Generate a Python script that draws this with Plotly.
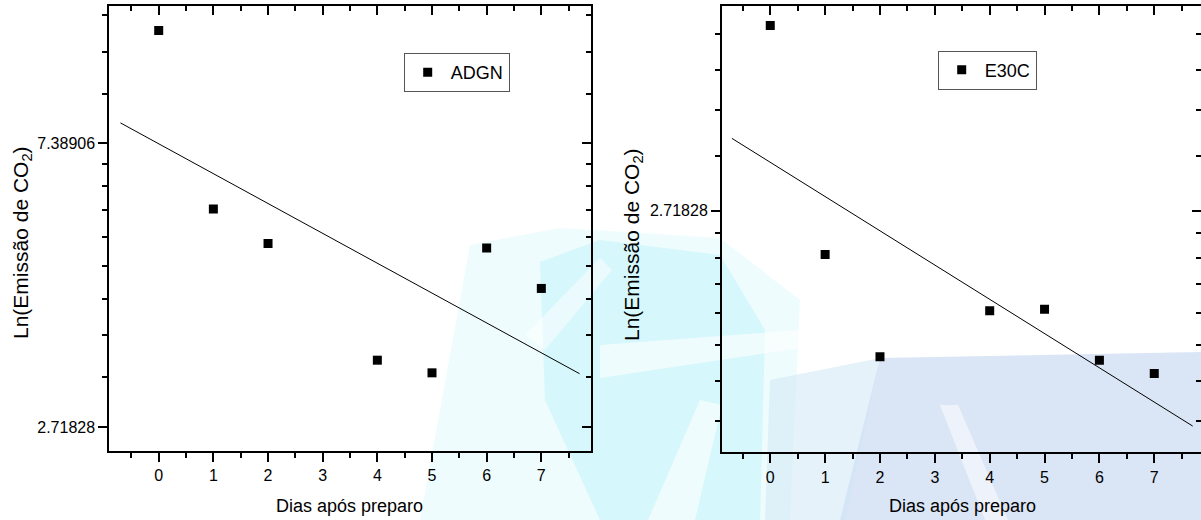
import math
import plotly.graph_objects as go

# ---------------- data ----------------
days = [0, 1, 2, 4, 5, 6, 7]
adgn = [11.00, 5.86, 5.19, 3.44, 3.29, 5.11, 4.43]
e30c = [4.93, 2.36, 1.70, 1.97, 1.98, 1.68, 1.61]

fit_days = [-0.7, 7.7]
adgn_fit = [7.94, 3.28]
e30c_fit = [3.43, 1.36]

x_ticks = [0, 1, 2, 3, 4, 5, 6, 7]
x_minor = [-0.5, 0.5, 1.5, 2.5, 3.5, 4.5, 5.5, 6.5, 7.5]

left_yticks = [math.e, math.e ** 2]
left_ytext = ["2.71828", "7.38906"]
right_yticks = [math.e]
right_ytext = ["2.71828"]


def linear_minor(a, b, n=8):
    return [a + (b - a) * k / (n + 1) for k in range(1, n + 1)]


left_yminor = linear_minor(math.e, math.e ** 2) + linear_minor(math.e ** 2, math.e ** 3)[:3]
right_yminor = linear_minor(1.0, math.e)[1:] + linear_minor(math.e, math.e ** 2)[:4]

x_title = "Dias após preparo"
y_title = "Ln(Emissão de CO<sub>2</sub>)"

# ---------------- layout geometry ----------------
W, H = 1201, 520
FONT = "Liberation Sans, Arial, sans-serif"
L10 = math.log10(math.e)

left_dom_x = [109.3 / W, 591.0 / W]
right_dom_x = [722.0 / W, 1.0]
left_dom_y = [(H - 451.0) / H, (H - 5.7) / H]
right_dom_y = [(H - 452.3) / H, (H - 5.7) / H]

left_xrange = [-0.904, 7.909]
right_xrange = [-0.88, 7.852]
left_yrange = [0.9154 * L10, 2.485 * L10]
right_yrange = [0.2231 * L10, 1.659 * L10]


def xax(dom, rng, side="bottom", overlay=None, anchor=None):
    d = dict(
        domain=dom, range=rng, showgrid=False, zeroline=False,
        showline=True, linecolor="black", linewidth=2,
        tickmode="array", tickvals=x_ticks,
        ticks="outside" if side == "bottom" else "inside",
        ticklen=9, tickwidth=2, tickcolor="black",
        minor=dict(tickvals=x_minor, ticks="outside" if side == "bottom" else "inside",
                   ticklen=5, tickwidth=1.5, tickcolor="black"),
        showticklabels=(side == "bottom"),
        tickfont=dict(family=FONT, size=16, color="black"),
        side=side, fixedrange=True,
    )
    if overlay:
        d["overlaying"] = overlay
    if anchor:
        d["anchor"] = anchor
    return d


def yax(dom, rng, tv, tt, mv, side="left", overlay=None, anchor=None):
    d = dict(
        domain=dom, range=rng, type="log", showgrid=False, zeroline=False,
        showline=True, linecolor="black", linewidth=2,
        tickmode="array", tickvals=tv, ticktext=tt,
        ticks="outside" if side == "left" else "inside",
        ticklen=9, tickwidth=2, tickcolor="black",
        minor=dict(tickvals=mv, ticks="outside" if side == "left" else "inside",
                   ticklen=5, tickwidth=1.5, tickcolor="black"),
        showticklabels=(side == "left"),
        tickfont=dict(family=FONT, size=16, color="black"),
        side=side, fixedrange=True,
    )
    if overlay:
        d["overlaying"] = overlay
    if anchor:
        d["anchor"] = anchor
    return d


fig = go.Figure()

fig.add_trace(go.Scatter(x=days, y=adgn, mode="markers", name="ADGN",
                         marker=dict(symbol="square", size=9, color="black"),
                         xaxis="x", yaxis="y", legend="legend"))
fig.add_trace(go.Scatter(x=days, y=e30c, mode="markers", name="E30C",
                         marker=dict(symbol="square", size=9, color="black"),
                         xaxis="x2", yaxis="y2", legend="legend2"))
fig.add_trace(go.Scatter(x=fit_days, y=adgn_fit, mode="lines", showlegend=False,
                         line=dict(color="black", width=1), xaxis="x3", yaxis="y3"))
fig.add_trace(go.Scatter(x=fit_days, y=e30c_fit, mode="lines", showlegend=False,
                         line=dict(color="black", width=1), xaxis="x4", yaxis="y4"))


def P(pts):
    return "M " + " L ".join(f"{x / W:.5f},{1 - y / H:.5f}" for x, y in pts) + " Z"


# faint decorative watermark behind the plots
wm = [
    ([(470, 245), (560, 228), (720, 238), (800, 300), (790, 520), (420, 520)], "rgba(200,245,250,0.3)"),
    ([(540, 262), (600, 240), (720, 255), (765, 330), (760, 520), (600, 520), (545, 400)], "rgba(185,242,248,0.45)"),
    ([(880, 358), (1201, 352), (1201, 520), (840, 520)], "rgba(214,226,244,0.9)"),
    ([(770, 380), (880, 358), (845, 520), (765, 520)], "rgba(205,230,246,0.5)"),
    ([(600, 345), (800, 330), (800, 348), (600, 378)], "rgba(255,255,255,0.6)"),
    ([(648, 520), (700, 400), (722, 405), (695, 520)], "rgba(255,255,255,0.6)"),
    ([(525, 335), (600, 258), (612, 270), (545, 350)], "rgba(255,255,255,0.5)"),
    ([(940, 405), (958, 405), (1008, 520), (985, 520)], "rgba(255,255,255,0.55)"),
]
shapes = [dict(type="path", xref="paper", yref="paper", path=P(p), fillcolor=c,
               line=dict(width=0), layer="below") for p, c in wm]

ann_font = dict(family=FONT, size=18, color="black")
annotations = [
    dict(text=x_title, x=350 / W, y=1 - 506 / H, xref="paper", yref="paper",
         showarrow=False, font=ann_font, xanchor="center", yanchor="middle"),
    dict(text=x_title, x=962 / W, y=1 - 506 / H, xref="paper", yref="paper",
         showarrow=False, font=ann_font, xanchor="center", yanchor="middle"),
    dict(text=y_title, x=22 / W, y=1 - 243 / H, xref="paper", yref="paper", textangle=-90,
         showarrow=False, font=dict(family=FONT, size=21, color="black"),
         xanchor="center", yanchor="middle"),
    dict(text=y_title, x=633 / W, y=1 - 245 / H, xref="paper", yref="paper", textangle=-90,
         showarrow=False, font=dict(family=FONT, size=21, color="black"),
         xanchor="center", yanchor="middle"),
]

leg_common = dict(bgcolor="white", bordercolor="#555555", borderwidth=1,
                  font=dict(family=FONT, size=18, color="black"),
                  xanchor="left", yanchor="top", itemwidth=36,
                  tracegroupgap=0)

fig.update_layout(
    width=W, height=H, autosize=False,
    margin=dict(l=0, r=0, t=0, b=0, pad=0),
    paper_bgcolor="white", plot_bgcolor="rgba(0,0,0,0)",
    font=dict(family=FONT, color="black"),
    xaxis=xax(left_dom_x, left_xrange, anchor="y"),
    yaxis=yax(left_dom_y, left_yrange, left_yticks, left_ytext, left_yminor, anchor="x"),
    xaxis2=xax(right_dom_x, right_xrange, anchor="y2"),
    yaxis2=yax(right_dom_y, right_yrange, right_yticks, right_ytext, right_yminor, anchor="x2"),
    xaxis3=xax(left_dom_x, left_xrange, side="top", overlay="x", anchor="y3"),
    yaxis3=yax(left_dom_y, left_yrange, left_yticks, left_ytext, left_yminor, side="right", overlay="y", anchor="x3"),
    xaxis4=xax(right_dom_x, right_xrange, side="top", overlay="x2", anchor="y4"),
    yaxis4=yax(right_dom_y, right_yrange, right_yticks, right_ytext, right_yminor, side="right", overlay="y2", anchor="x4"),
    legend=dict(x=403.7 / W, y=1 - 53 / H, **leg_common),
    legend2=dict(x=937.7 / W, y=1 - 50.5 / H, **leg_common),
    shapes=shapes,
    annotations=annotations,
    showlegend=True,
)

fig.write_html("out.html", config={"displayModeBar": False},
               post_script="document.body.style.margin='0';document.body.style.overflow='hidden';")
